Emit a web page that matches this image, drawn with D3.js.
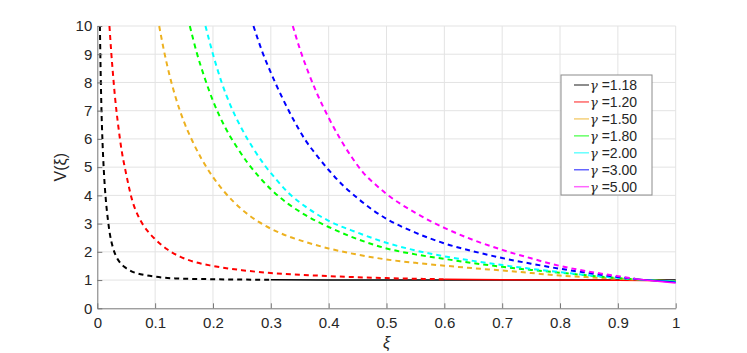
<!DOCTYPE html>
<html>
<head>
<meta charset="utf-8">
<script src="https://cdn.jsdelivr.net/npm/d3@7"></script>
<style>
  body { margin: 0; background: #fff; }
  text { font-family: "Liberation Sans", Arial, Helvetica, sans-serif; fill: #262626; }
</style>
</head>
<body>
<div id="root"></div>
<script>
// gamma values shown in the legend
const gammas = [1.18, 1.20, 1.50, 1.80, 2.00, 3.00, 5.00]
const colors = ['#000000', '#ff0000', '#edb120', '#00ff00', '#00ffff', '#0000ff', '#ff00ff']

// curves: [xi, V]
const v118 = [[0.0045, 10], [0.0055, 8.7], [0.007, 7.2], [0.009, 5.9], [0.0115, 4.8], [0.0145, 3.9],
  [0.018, 3.2], [0.022, 2.6], [0.027, 2.15], [0.033, 1.82], [0.04, 1.6], [0.05, 1.42], [0.06, 1.3],
  [0.07, 1.23], [0.081, 1.18], [0.1, 1.12], [0.134, 1.06], [0.2, 1.03], [0.3, 1.01], [0.4, 1.0],
  [0.6, 1.0], [0.8, 1.0], [0.9, 1.0], [1, 1.0]]
const v120 = [[0.021, 10], [0.024, 9.1], [0.0275, 8.2], [0.031, 7.4], [0.036, 6.5], [0.042, 5.6],
  [0.05, 4.75], [0.06, 3.85], [0.07, 3.3], [0.08, 2.93], [0.09, 2.66], [0.1, 2.45], [0.12, 2.1],
  [0.143, 1.83], [0.17, 1.63], [0.2, 1.5], [0.25, 1.35], [0.3, 1.25], [0.35, 1.19], [0.4, 1.14],
  [0.5, 1.07], [0.6, 1.03], [0.7, 1.01], [0.8, 1.0], [0.9, 0.99], [1, 0.98]]
const v150 = [[0.107, 10], [0.115, 9.15], [0.125, 8.25], [0.135, 7.5], [0.15, 6.6], [0.165, 5.9],
  [0.18, 5.3], [0.2, 4.65], [0.22, 4.12], [0.25, 3.5], [0.28, 3.05], [0.3, 2.82], [0.33, 2.55],
  [0.36, 2.35], [0.4, 2.12], [0.45, 1.9], [0.5, 1.73], [0.55, 1.61], [0.6, 1.51], [0.65, 1.42],
  [0.7, 1.34], [0.75, 1.25], [0.8, 1.16], [0.85, 1.1], [0.9, 1.05], [0.95, 1.0], [1, 0.97]]
const v180 = [[0.16, 10], [0.172, 9.05], [0.185, 8.2], [0.2, 7.35], [0.22, 6.45], [0.24, 5.75],
  [0.26, 5.15], [0.28, 4.65], [0.3, 4.22], [0.33, 3.7], [0.36, 3.3], [0.4, 2.88], [0.45, 2.45],
  [0.5, 2.12], [0.55, 1.91], [0.6, 1.75], [0.65, 1.6], [0.7, 1.47], [0.75, 1.36], [0.8, 1.26],
  [0.85, 1.16], [0.9, 1.07], [0.95, 1.0], [1, 0.96]]
const v200 = [[0.187, 10], [0.2, 9.0], [0.215, 8.0], [0.23, 7.2], [0.25, 6.35], [0.27, 5.65],
  [0.29, 5.05], [0.31, 4.55], [0.33, 4.1], [0.36, 3.6], [0.4, 3.1], [0.45, 2.68], [0.5, 2.32],
  [0.55, 2.05], [0.6, 1.84], [0.65, 1.68], [0.7, 1.53], [0.75, 1.4], [0.8, 1.28], [0.85, 1.17],
  [0.9, 1.08], [0.95, 1.0], [1, 0.95]]
const v300 = [[0.27, 10], [0.285, 9.1], [0.3, 8.35], [0.32, 7.45], [0.34, 6.65], [0.36, 5.95],
  [0.38, 5.4], [0.4, 4.9], [0.425, 4.35], [0.45, 3.9], [0.475, 3.5], [0.5, 3.17], [0.55, 2.68],
  [0.6, 2.3], [0.65, 2.02], [0.7, 1.78], [0.75, 1.58], [0.8, 1.4], [0.85, 1.25], [0.9, 1.11],
  [0.95, 1.0], [1, 0.92]]
const v500 = [[0.338, 10], [0.35, 9.2], [0.365, 8.35], [0.38, 7.6], [0.4, 6.75], [0.42, 6.0],
  [0.44, 5.35], [0.46, 4.8], [0.48, 4.4], [0.5, 4.05], [0.55, 3.38], [0.6, 2.85], [0.65, 2.42],
  [0.7, 2.07], [0.75, 1.77], [0.8, 1.5], [0.85, 1.3], [0.9, 1.14], [0.94, 1.02], [1, 0.9]]
const curves = [v118, v120, v150, v180, v200, v300, v500]

// xi where each curve switches from dashed to solid
const solidFrom = [0.3, 0.6, 0.93, 0.93, 0.93, 0.93, 0.93]

const xTicks = [0, 0.1, 0.2, 0.3, 0.4, 0.5, 0.6, 0.7, 0.8, 0.9, 1]
const yTicks = [0, 1, 2, 3, 4, 5, 6, 7, 8, 9, 10]

const width = 747
const height = 353

const x = d3.scaleLinear().domain([0, 1]).range([97.3, 675.7])
const y = d3.scaleLinear().domain([0, 10]).range([308.3, 26])

const svg = d3.select('#root').append('svg')
  .attr('width', width)
  .attr('height', height)

// grid
svg.append('g')
  .selectAll('line')
  .data(xTicks.slice(1))
  .enter().append('line')
  .attr('x1', d => x(d)).attr('x2', d => x(d))
  .attr('y1', y(0)).attr('y2', y(10))
  .attr('stroke', '#e3e3e3').attr('stroke-width', 1)
svg.append('g')
  .selectAll('line')
  .data(yTicks.slice(1))
  .enter().append('line')
  .attr('x1', x(0)).attr('x2', x(1))
  .attr('y1', d => y(d)).attr('y2', d => y(d))
  .attr('stroke', '#e3e3e3').attr('stroke-width', 1)

// clips for dashed / solid parts
const defs = svg.append('defs')
curves.forEach((c, i) => {
  defs.append('clipPath').attr('id', 'dash' + i)
    .append('rect')
    .attr('x', x(0)).attr('y', y(10) - 2)
    .attr('width', x(solidFrom[i]) - x(0)).attr('height', y(0) - y(10) + 2)
  defs.append('clipPath').attr('id', 'solid' + i)
    .append('rect')
    .attr('x', x(solidFrom[i])).attr('y', y(10) - 2)
    .attr('width', x(1) - x(solidFrom[i]) + 2).attr('height', y(0) - y(10) + 2)
})

const line = d3.line()
  .x(d => x(d[0]))
  .y(d => y(d[1]))
  .curve(d3.curveMonotoneX)

const lines = svg.append('g').attr('class', 'lines')
curves.forEach((c, i) => {
  lines.append('path')
    .datum(c)
    .attr('fill', 'none')
    .attr('stroke', colors[i])
    .attr('stroke-width', 2)
    .attr('stroke-dasharray', '5,4')
    .attr('clip-path', `url(#dash${i})`)
    .attr('d', line)
  lines.append('path')
    .datum(c)
    .attr('fill', 'none')
    .attr('stroke', colors[i])
    .attr('stroke-width', 1.5)
    .attr('clip-path', `url(#solid${i})`)
    .attr('d', line)
})

// axes, ticks pointing inward
const xAxis = svg.append('g')
  .attr('transform', `translate(0,${y(0)})`)
  .call(d3.axisBottom(x).tickValues(xTicks).tickFormat(d3.format('')).tickSizeInner(-5).tickSizeOuter(0).tickPadding(9))
const yAxis = svg.append('g')
  .attr('transform', `translate(${x(0)},0)`)
  .call(d3.axisLeft(y).tickValues(yTicks).tickSizeInner(-5).tickSizeOuter(0).tickPadding(5))
;[xAxis, yAxis].forEach(a => {
  a.select('.domain').attr('stroke', '#777').attr('stroke-width', 1)
  a.selectAll('.tick line').attr('stroke', '#777')
  a.selectAll('.tick text').attr('font-size', 15).attr('fill', '#262626')
    .attr('font-family', '"Liberation Sans", Arial, sans-serif')
})

// axis labels
svg.append('text')
  .attr('x', x(0.5)).attr('y', 348)
  .attr('text-anchor', 'middle')
  .attr('font-size', 16)
  .attr('font-style', 'italic')
  .text('ξ')
svg.append('text')
  .attr('transform', `translate(66,${y(5)}) rotate(-90)`)
  .attr('text-anchor', 'middle')
  .attr('font-size', 16)
  .text('V(ξ)')

// legend
const legend = svg.append('g').attr('transform', 'translate(561,75)')
legend.append('rect')
  .attr('width', 91).attr('height', 120)
  .attr('fill', '#fff').attr('stroke', '#8c8c8c').attr('stroke-width', 1)
gammas.forEach((g, i) => {
  const row = legend.append('g').attr('transform', `translate(0,${10 + i * 16.95})`)
  row.append('line')
    .attr('x1', 13).attr('x2', 28)
    .attr('stroke', colors[i]).attr('stroke-width', 1.5).attr('stroke-opacity', 0.6)
  const t = row.append('text').attr('x', 29).attr('y', 5).attr('font-size', 14)
  t.append('tspan').attr('font-family', '"DejaVu Serif", serif').attr('font-style', 'italic').attr('font-size', 13).text('γ')
  t.append('tspan').text(' =' + g.toFixed(2))
})
</script>
</body>
</html>
